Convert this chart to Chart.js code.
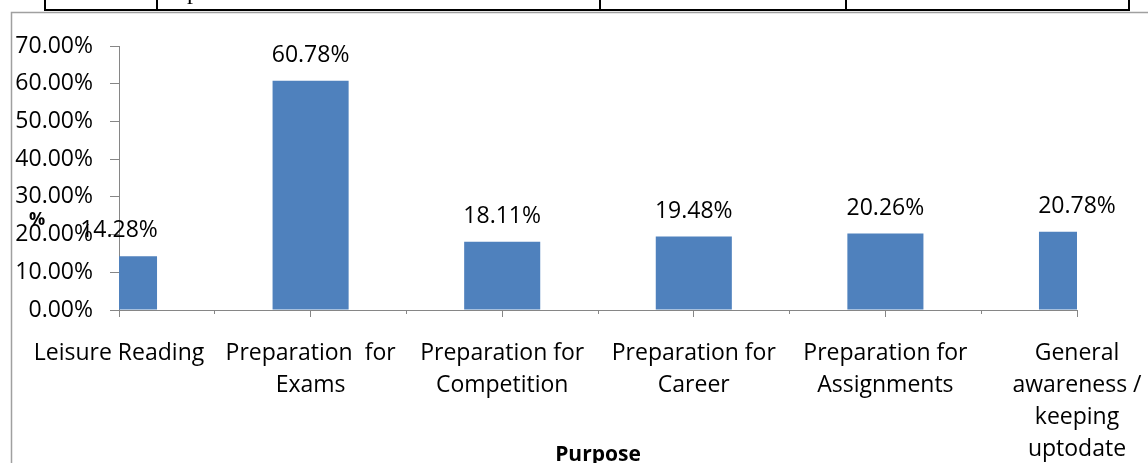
<!DOCTYPE html>
<html lang="en">
<head>
<meta charset="UTF-8">
<title>Purpose</title>
<script src="https://cdn.jsdelivr.net/npm/chart.js"></script>
<style>
  html, body { margin: 0; padding: 0; background: #fff; }
  #wrap { width: 1148px; height: 463px; position: relative; }
</style>
</head>
<body>
<div id="wrap"><canvas id="barChart"></canvas></div>
<script>
// data
const purposes = [
  'Leisure Reading',
  ['Preparation  for', 'Exams'],
  ['Preparation for', 'Competition'],
  ['Preparation for', 'Career'],
  ['Preparation for', 'Assignments'],
  ['General', 'awareness /', 'keeping', 'uptodate']
];
const percentages = [14.28, 60.78, 18.11, 19.48, 20.26, 20.78];
const yTicks = [0, 10, 20, 30, 40, 50, 60, 70];

const axisGrey = '#868686';
const barBlue = '#4f81bd';

// bits of the surrounding document + the chart frame
const pageBits = {
  id: 'pageBits',
  beforeDraw(chart) {
    const ctx = chart.ctx;
    ctx.save();
    ctx.strokeStyle = '#000';
    ctx.lineWidth = 2;
    ctx.beginPath();
    ctx.moveTo(44, 10);
    ctx.lineTo(1130, 10);
    [45, 157, 600, 846, 1129].forEach(x => {
      ctx.moveTo(x, 0);
      ctx.lineTo(x, 10);
    });
    ctx.stroke();
    ctx.fillStyle = '#000';
    ctx.font = '24px "Liberation Serif"';
    ctx.fillText('p', 187, -1);

    ctx.strokeStyle = '#a0a0a0';
    ctx.lineWidth = 1.5;
    ctx.beginPath();
    ctx.moveTo(11.5, 463);
    ctx.lineTo(11.5, 12.5);
    ctx.lineTo(1148, 12.5);
    ctx.stroke();
    ctx.restore();
  }
};

// value labels on top of the bars and the "%" axis title
const valueLabels = {
  id: 'valueLabels',
  afterDatasetsDraw(chart) {
    const ctx = chart.ctx;
    const meta = chart.getDatasetMeta(0);
    ctx.save();
    ctx.fillStyle = '#000';
    ctx.font = '23px "Open Sans"';
    ctx.textAlign = 'center';
    ctx.textBaseline = 'alphabetic';
    meta.data.forEach((bar, i) => {
      ctx.fillText(percentages[i].toFixed(2) + '%', bar.x, bar.y - 19);
    });

    const area = chart.chartArea;
    ctx.font = 'bold 18px "Open Sans"';
    ctx.textBaseline = 'middle';
    ctx.fillText('%', area.left - 82, (area.top + area.bottom) / 2 + 42);
    ctx.restore();
  }
};

const ctx = document.getElementById('barChart').getContext('2d');
new Chart(ctx, {
  type: 'bar',
  data: {
    labels: purposes,
    datasets: [{
      data: percentages,
      backgroundColor: barBlue,
      categoryPercentage: 1,
      barPercentage: 0.397,
      clip: 0
    }]
  },
  options: {
    responsive: true,
    maintainAspectRatio: false,
    animation: false,
    events: [],
    layout: { padding: { left: 0, top: 46, right: 71, bottom: 0 } },
    font: { family: '"Open Sans", sans-serif' },
    plugins: {
      legend: { display: false },
      tooltip: { enabled: false }
    },
    scales: {
      x: {
        type: 'category',
        offset: false,
        weight: 1,
        grid: {
          offset: false,
          drawOnChartArea: false,
          color: axisGrey,
          tickLength: 7
        },
        border: { color: axisGrey },
        ticks: {
          autoSkip: false,
          maxRotation: 0,
          minRotation: 0,
          padding: 20,
          color: '#000',
          font: { family: '"Open Sans"', size: 23, lineHeight: 32 / 23 }
        },
        title: {
          display: true,
          text: 'Purpose',
          color: '#000',
          padding: 0,
          font: { family: '"Open Sans"', size: 21, weight: 'bold', lineHeight: 0.8 }
        },
        afterFit(scale) {
          scale.height = 153;
          // edge labels are allowed to hang over the sides
          scale.paddingLeft = 0;
          scale.paddingRight = 0;
        }
      },
      x2: {
        type: 'category',
        position: 'bottom',
        offset: false,
        weight: 0,
        labels: purposes,
        grid: {
          offset: true,
          drawOnChartArea: false,
          color: axisGrey,
          tickLength: 4
        },
        border: { display: false },
        ticks: { display: false },
        afterFit(scale) {
          scale.height = 0;
          scale.paddingLeft = 0;
          scale.paddingRight = 0;
        }
      },
      y: {
        min: 0,
        max: 70,
        afterBuildTicks(scale) { scale.ticks = yTicks.map(v => ({ value: v })); },
        grid: {
          drawOnChartArea: false,
          color: axisGrey,
          tickLength: 9
        },
        border: { color: axisGrey },
        ticks: {
          padding: 17,
          color: '#000',
          font: { family: '"Open Sans"', size: 23 },
          callback: v => v.toFixed(2) + '%'
        },
        afterFit(scale) { scale.width = 119; }
      }
    }
  },
  plugins: [pageBits, valueLabels]
});
</script>
</body>
</html>
